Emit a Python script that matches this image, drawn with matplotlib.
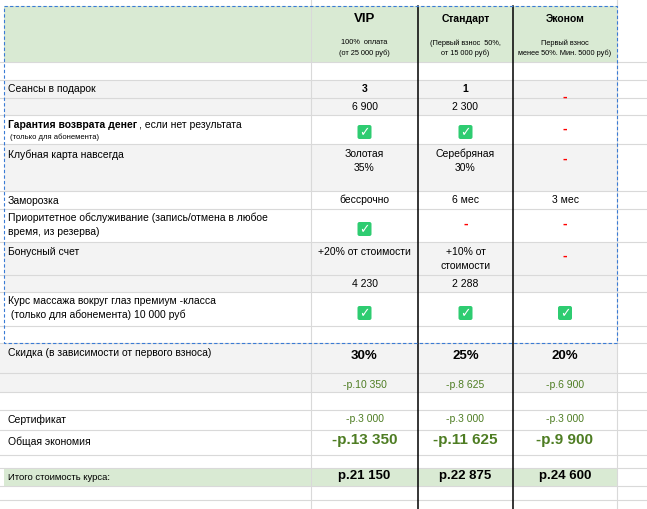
import matplotlib
matplotlib.use("Agg")
import matplotlib.pyplot as plt
from matplotlib.patches import Rectangle, FancyBboxPatch

plt.rcParams['font.family'] = ['Liberation Sans', 'DejaVu Sans']

plans = ["VIP", "Стандарт", "Эконом"]
plan_notes = ["100%  оплата\n(от 25 000 руб)", "(Первый взнос  50%,\nот 15 000 руб)", "Первый взнос\nменее 50%. Мин. 5000 руб)"]
gift_sessions = ["3", "1", "-"]
gift_value = ["6 900", "2 300", ""]
guarantee = ["check", "check", "-"]
club_card = ["Золотая\n35%", "Серебряная\n30%", "-"]
freeze = ["бессрочно", "6 мес", "3 мес"]
priority = ["check", "-", "-"]
bonus = ["+20% от стоимости", "+10% от\nстоимости", "-"]
bonus_value = ["4 230", "2 288", ""]
eye_course = ["check", "check", "check"]
discount_pct = ["30%", "25%", "20%"]
discount_rub = ["-р.10 350", "-р.8 625", "-р.6 900"]
certificate = ["-р.3 000", "-р.3 000", "-р.3 000"]
total_saving = ["-р.13 350", "-р.11 625", "-р.9 900"]
total_price = ["р.21 150", "р.22 875", "р.24 600"]

fig = plt.figure(figsize=(6.47, 5.09), dpi=100)
ax = fig.add_axes([0, 0, 1, 1])
ax.set_xlim(0, 647); ax.set_ylim(509, 0); ax.axis('off')

colx = [4, 311, 418, 513, 617, 647]
cen = [(colx[i+1] + colx[i]) / 2 for i in range(1, 4)]
GREY = "#f3f3f3"; GREEN_BG = "#d9ead3"; GRID = "#d9d9d9"; DG = "#4e7d23"

def bg(y0, y1, c, x0=4, x1=617):
    ax.add_patch(Rectangle((x0, y0), x1 - x0, y1 - y0, color=c, zorder=0, lw=0))

bg(6, 62, GREEN_BG)
bg(80, 115, GREY); bg(144, 191, GREY); bg(242, 292, GREY); bg(343, 392, GREY, x0=0)
bg(468, 486, GREEN_BG)

for y in [62, 80, 98, 115, 144, 191, 209, 242, 275, 292, 326, 343, 373, 392, 410, 430, 455, 468, 486, 500]:
    ax.plot([0, 647], [y, y], color=GRID, lw=0.8, zorder=1)
for x in [311, 617]:
    ax.plot([x, x], [0, 509], color=GRID, lw=0.8, zorder=1)
for x in [418, 513]:
    ax.plot([x, x], [6, 509], color="black", lw=1.1, zorder=3)
ax.plot([4, 617, 617, 4, 4], [6, 6, 343, 343, 6], color="#3a7bd5", lw=0.8, ls=(0, (3, 2)), zorder=4)

FS = 7.5
def lab(y, s, **kw):
    ax.text(8, y, s, fontsize=kw.pop('fs', FS), va='center', ha='left', **kw)

def check(x, y):
    ax.add_patch(FancyBboxPatch((x - 7, y - 7), 14, 14, boxstyle="round,pad=0,rounding_size=2",
                                color="#2ecc71", lw=0, zorder=5))
    ax.text(x, y + 0.5, "✓", color="white", fontsize=9, weight='bold', ha='center', va='center',
            family='DejaVu Sans', zorder=6)

def cell(i, y, s, **kw):
    if s == "check":
        check(cen[i], y)
    elif s == "-":
        ax.text(cen[i], y, "-", color="red", fontsize=10, weight='bold', ha='center', va='center')
    elif s:
        ax.text(cen[i], y, s, fontsize=kw.pop('fs', FS), ha='center', va='center', linespacing=1.5, **kw)

for i in range(3):
    ax.text(cen[i], 19, plans[i], fontsize=9.5 if i == 0 else 7.5, weight='bold', ha='center', va='center')
    ax.text(cen[i], 48, plan_notes[i], fontsize=5.3, ha='center', va='center', linespacing=1.5)

lab(89, "Сеансы в подарок")
for i in range(3):
    cell(i, 89, gift_sessions[i], weight='bold') if gift_sessions[i] != "-" else cell(i, 97, "-")
    cell(i, 107, gift_value[i])

ax.text(8, 125, "Гарантия возврата денег", fontsize=FS, weight='bold', va='center')
ax.text(139, 125, ", если нет результата", fontsize=FS, va='center')
ax.text(10, 137, "(только для абонемента)", fontsize=5.5, va='center')
for i in range(3):
    cell(i, 132 if guarantee[i] == "check" else 129, guarantee[i])

lab(155, "Клубная карта навсегда")
for i in range(3):
    cell(i, 161 if club_card[i] != "-" else 159, club_card[i])

lab(201, "Заморозка")
for i in range(3):
    cell(i, 200, freeze[i])

lab(225, "Приоритетное обслуживание (запись/отмена в любое\nвремя, из резерва)", linespacing=1.5)
for i in range(3):
    cell(i, 229 if priority[i] == "check" else 224, priority[i])

lab(252, "Бонусный счет")
for i in range(3):
    cell(i, 259 if i == 1 else (252 if i == 0 else 256), bonus[i])
    cell(i, 284, bonus_value[i])

lab(308, "Курс массажа вокруг глаз премиум -класса\n (только для абонемента) 10 000 руб", linespacing=1.5)
for i in range(3):
    cell(i, 313, eye_course[i])

lab(353, "Скидка (в зависимости от первого взноса)")
for i in range(3):
    cell(i, 356, discount_pct[i], fs=9.5, weight='bold')
    cell(i, 385, discount_rub[i], color=DG)
    cell(i, 419, certificate[i], color=DG)
    cell(i, 440, total_saving[i], fs=11, weight='bold', color=DG)
    cell(i, 476, total_price[i], fs=9.5, weight='bold')

lab(420, "Сертификат")
lab(442, "Общая экономия")
lab(477, "Итого стоимость курса:", fs=6.8)

fig.savefig("out.png", dpi=100)
